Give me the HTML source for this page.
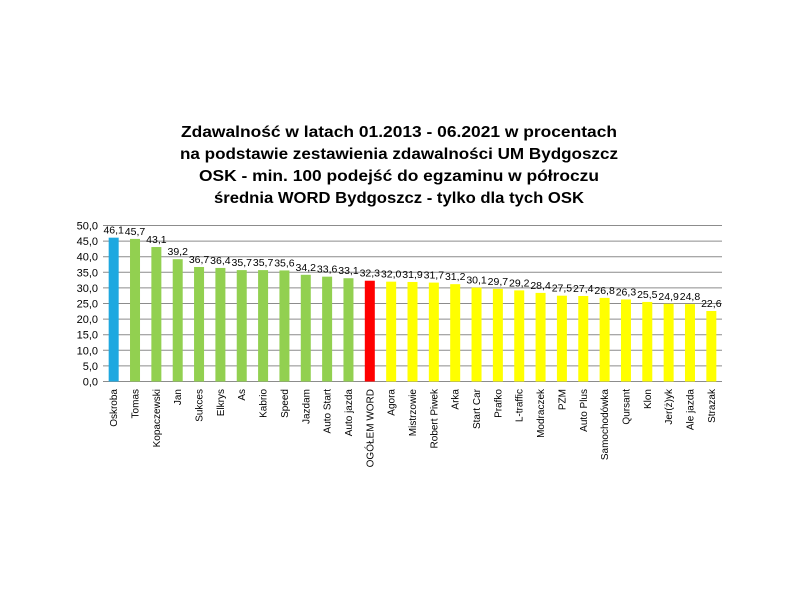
<!DOCTYPE html>
<html><head><meta charset="utf-8"><style>body{margin:0;background:#fff}svg{display:block}</style></head>
<body>
<svg width="800" height="600" xmlns="http://www.w3.org/2000/svg" font-family="Liberation Sans, DejaVu Sans, sans-serif">
<rect width="800" height="600" fill="#fff"/>
<g font-weight="bold" font-size="16" text-anchor="middle" fill="#000">
<text x="399" y="137" textLength="436" lengthAdjust="spacingAndGlyphs">Zdawalność w latach 01.2013 - 06.2021 w procentach</text>
<text x="399" y="159" textLength="438" lengthAdjust="spacingAndGlyphs">na podstawie zestawienia zdawalności UM Bydgoszcz</text>
<text x="399" y="181" textLength="400" lengthAdjust="spacingAndGlyphs">OSK - min. 100 podejść do egzaminu w półroczu</text>
<text x="399" y="203" textLength="370" lengthAdjust="spacingAndGlyphs">średnia WORD Bydgoszcz - tylko dla tych OSK</text>
</g>
<g id="grid" stroke="#8c8c8c" stroke-width="1"></g>
<g id="yl" font-size="11" text-anchor="end" fill="#000"></g>
<g id="bars"></g>
<g id="vl" font-size="10.5" text-anchor="middle" fill="#000"></g>
<g id="xl" font-size="10" text-anchor="end" fill="#000"></g>
<script>
var ns="http://www.w3.org/2000/svg";
function el(p,t,a,txt){var e=document.createElementNS(ns,t);for(var k in a)e.setAttribute(k,a[k]);if(txt!=null)e.textContent=txt;document.getElementById(p).appendChild(e);}
var y0=381.5,sc=3.12,x0=103,x1=722;
for(var v=0;v<=50;v+=5){var y=y0-v*sc;el("grid","line",{x1:x0,x2:x1,y1:y,y2:y});el("yl","text",{x:98,y:y+4},v.toFixed(1).replace(".",","));}
var d=[["Oskroba",46.1],["Tomas",45.7],["Kopaczewski",43.1],["Jan",39.2],["Sukces",36.7],["Elkrys",36.4],["As",35.7],["Kabrio",35.7],["Speed",35.6],["Jazdam",34.2],["Auto Start",33.6],["Auto jazda",33.1],["OGÓŁEM WORD",32.3],["Agora",32.0],["Mistrzowie",31.9],["Robert Piwek",31.7],["Arka",31.2],["Start Car",30.1],["Prafko",29.7],["L-traffic",29.2],["Modraczek",28.4],["PZM",27.5],["Auto Plus",27.4],["Samochodówka",26.8],["Qursant",26.3],["Klon",25.5],["Jer(ż)yk",24.9],["Ale jazda",24.8],["Strażak",22.6]];
var n=28;d.splice(14,1);d=[["Oskroba",46.1],["Tomas",45.7],["Kopaczewski",43.1],["Jan",39.2],["Sukces",36.7],["Elkrys",36.4],["As",35.7],["Kabrio",35.7],["Speed",35.6],["Jazdam",34.2],["Auto Start",33.6],["Auto jazda",33.1],["OGÓŁEM WORD",32.3],["Agora",32.0],["Mistrzowie",31.9],["Robert Piwek",31.7],["Arka",31.2],["Start Car",30.1],["Prafko",29.7],["L-traffic",29.2],["Modraczek",28.4],["PZM",27.5],["Auto Plus",27.4],["Samochodówka",26.8],["Qursant",26.3],["Klon",25.5],["Jer(ż)yk",24.9],["Ale jazda",24.8],["Strazak",22.6]];
n=d.length;var w=(x1-x0)/n;
d.forEach(function(r,i){var c=x0+w*(i+0.5);var col=i==0?"#1ea8e0":i<12?"#92d050":i==12?"#ff0000":"#ffff00";
var h=r[1]*sc;el("bars","rect",{x:c-5,y:y0-h,width:10,height:h,fill:col});
el("vl","text",{x:c,y:y0-h-4},r[1].toFixed(1).replace(".",","));
el("xl","text",{transform:"translate("+(c+3.5)+",389) rotate(-90)"},r[0]);});
</script>
</svg>
</body></html>
